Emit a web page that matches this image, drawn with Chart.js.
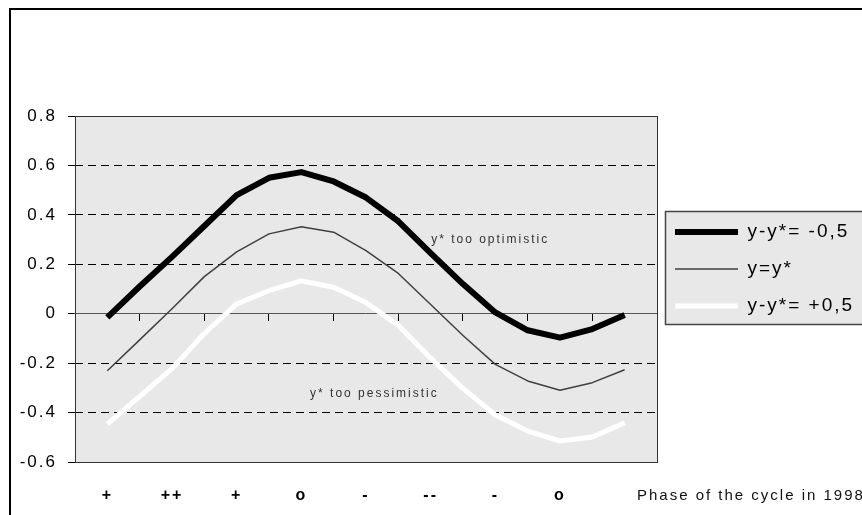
<!DOCTYPE html>
<html>
<head>
<meta charset="utf-8">
<script src="https://cdn.jsdelivr.net/npm/chart.js@4"></script>
<style>
  html, body { margin: 0; padding: 0; background: #fff; overflow: hidden; }
  #frame { position: absolute; left: 9px; top: 8px; width: 900px; height: 560px;
           border-left: 2px solid #000; border-top: 2px solid #000; }
  #wrap { position: absolute; left: 0; top: 0; width: 880px; height: 540px; }
</style>
</head>
<body>
<div id="frame"></div>
<div id="wrap"><canvas id="cycleChart"></canvas></div>
<script>
const phaseLabels = ["+", "++", "+", "o", "-", "--", "-", "o", ""];
const phaseTitle = "Phase of the cycle in 1998";

// positions along the cycle, in phase units (0 = first phase)
const sampleX = [0, 0.5, 1, 1.5, 2, 2.5, 3, 3.5, 4, 4.5, 5, 5.5, 6, 6.5, 7, 7.5, 8];
const gapMinus = [-0.015, 0.11, 0.23, 0.355, 0.48, 0.55, 0.573, 0.535, 0.47, 0.374, 0.245, 0.12, 0.005, -0.067, -0.097, -0.062, -0.005];
const gapZero = [-0.231, -0.106, 0.02, 0.15, 0.25, 0.323, 0.352, 0.33, 0.255, 0.163, 0.037, -0.088, -0.205, -0.272, -0.31, -0.279, -0.227];
const gapPlus = [-0.447, -0.335, -0.222, -0.08, 0.04, 0.093, 0.133, 0.107, 0.045, -0.048, -0.18, -0.302, -0.41, -0.475, -0.515, -0.499, -0.441];
const seriesNames = ["y-y*= -0,5", "y=y*", "y-y*= +0,5"];

const yTicks = [-0.6, -0.4, -0.2, 0, 0.2, 0.4, 0.6, 0.8];

const noteText = ["y* too optimistic", "y* too pessimistic"];
const noteX = [5.92, 4.13];
const noteY = [0.3, -0.325];

const FONT = "'Liberation Sans', Arial, sans-serif";
const PLOT_BG = "#e8e8e8";

function points(values) {
  return sampleX.map((x, i) => ({ x: x, y: values[i] }));
}

const decorPlugin = {
  id: "decor",
  beforeLayout(chart) {
    chart.ctx.letterSpacing = "2px";
  },
  beforeDraw(chart) {
    const ctx = chart.ctx;
    const a = chart.chartArea;
    ctx.letterSpacing = "2px";
    ctx.save();
    ctx.fillStyle = PLOT_BG;
    ctx.fillRect(a.left, a.top, a.right - a.left, a.bottom - a.top);

    // legend box behind the legend items
    const hb = chart.legend.legendHitBoxes;
    if (hb && hb.length) {
      const last = hb[hb.length - 1];
      const bx = Math.round(hb[0].left - 10) + 0.5;
      const by = Math.round(hb[0].top - 12) + 0.5;
      const bb = Math.round(last.top + last.height + 8) + 0.5;
      ctx.fillStyle = PLOT_BG;
      ctx.fillRect(bx, by, chart.width + 20 - bx, bb - by);
      ctx.strokeStyle = "#444";
      ctx.lineWidth = 1.5;
      ctx.strokeRect(bx, by, chart.width + 20 - bx, bb - by);
    }
    ctx.restore();
  },
  afterDatasetsDraw(chart) {
    const ctx = chart.ctx;
    const a = chart.chartArea;
    const xs = chart.scales.x;
    const ys = chart.scales.y;
    ctx.save();
    ctx.strokeStyle = "#333";
    ctx.lineWidth = 1;
    ctx.strokeRect(Math.round(a.left) + 0.5, Math.round(a.top) + 0.5,
      Math.round(a.right - a.left), Math.round(a.bottom - a.top));

    ctx.font = "12px " + FONT;
    ctx.fillStyle = "#333";
    ctx.textAlign = "center";
    ctx.textBaseline = "middle";
    noteText.forEach((t, i) => {
      ctx.fillText(t, xs.getPixelForValue(noteX[i]), ys.getPixelForValue(noteY[i]));
    });

    // axis caption next to the last phase label
    ctx.font = "15px " + FONT;
    ctx.fillStyle = "#111";
    ctx.textAlign = "left";
    ctx.fillText(phaseTitle, xs.getPixelForValue(8.19), xs.top + xs.options.ticks.padding + 10);
    ctx.restore();
  }
};

new Chart(document.getElementById("cycleChart"), {
  type: "line",
  data: {
    datasets: [
      { label: seriesNames[0], data: points(gapMinus), borderColor: "#000", backgroundColor: "#000", borderWidth: 6 },
      { label: seriesNames[1], data: points(gapZero), borderColor: "#404040", backgroundColor: "#404040", borderWidth: 1.5 },
      { label: seriesNames[2], data: points(gapPlus), borderColor: "#fff", backgroundColor: "#fff", borderWidth: 5 },
    ],
  },
  options: {
    responsive: true,
    maintainAspectRatio: false,
    animation: false,
    layout: { padding: { left: 8.7, top: 116, right: 15.9, bottom: 10.8 } },
    elements: {
      point: { radius: 0, hoverRadius: 0 },
      line: { tension: 0, fill: false, borderJoinStyle: "round" },
    },
    plugins: {
      tooltip: { enabled: false },
      legend: {
        position: "right",
        align: "start",
        fullSize: false,
        title: { display: true, text: "", font: { size: 10 }, padding: { top: 76.5, bottom: 0 } },
        labels: {
          usePointStyle: true,
          pointStyle: "line",
          pointStyleWidth: 63,
          color: "#000",
          padding: 18,
          font: { size: 19, family: FONT },
        },
      },
    },
    scales: {
      x: {
        type: "linear",
        min: -0.5,
        max: 8.5,
        afterBuildTicks: (s) => { s.ticks = phaseLabels.map((_, i) => ({ value: i })); },
        ticks: {
          autoSkip: false,
          maxRotation: 0,
          padding: 24,
          color: "#000",
          font: { size: 16, weight: "bold", family: FONT },
          callback: (v) => phaseLabels[v],
        },
        grid: { display: false, drawTicks: false },
        border: { display: false },
      },
      x2: {
        type: "linear",
        position: { y: 0 },
        min: -0.5,
        max: 8.5,
        afterBuildTicks: (s) => { s.ticks = phaseLabels.slice(1).map((_, i) => ({ value: i + 0.5 })); },
        ticks: { display: false },
        grid: { drawOnChartArea: false, drawTicks: true, tickLength: 7, color: "#000", lineWidth: 1 },
        border: { display: true, color: "#555", width: 1 },
      },
      y: {
        type: "linear",
        position: "left",
        min: -0.6,
        max: 0.8,
        afterBuildTicks: (s) => { s.ticks = yTicks.map((v) => ({ value: v })); },
        ticks: {
          padding: 11,
          color: "#000",
          font: { size: 17, family: FONT },
          callback: (v) => (v === 0 ? "0" : v.toFixed(1)),
        },
        grid: {
          color: (c) => (c.tick && c.tick.value === 0 ? "rgba(0,0,0,0)" : "#000"),
          lineWidth: 1,
          tickLength: 7,
          tickColor: "#000",
        },
        border: { display: false, dash: [8, 5] },
      },
    },
  },
  plugins: [decorPlugin],
});
</script>
</body>
</html>
